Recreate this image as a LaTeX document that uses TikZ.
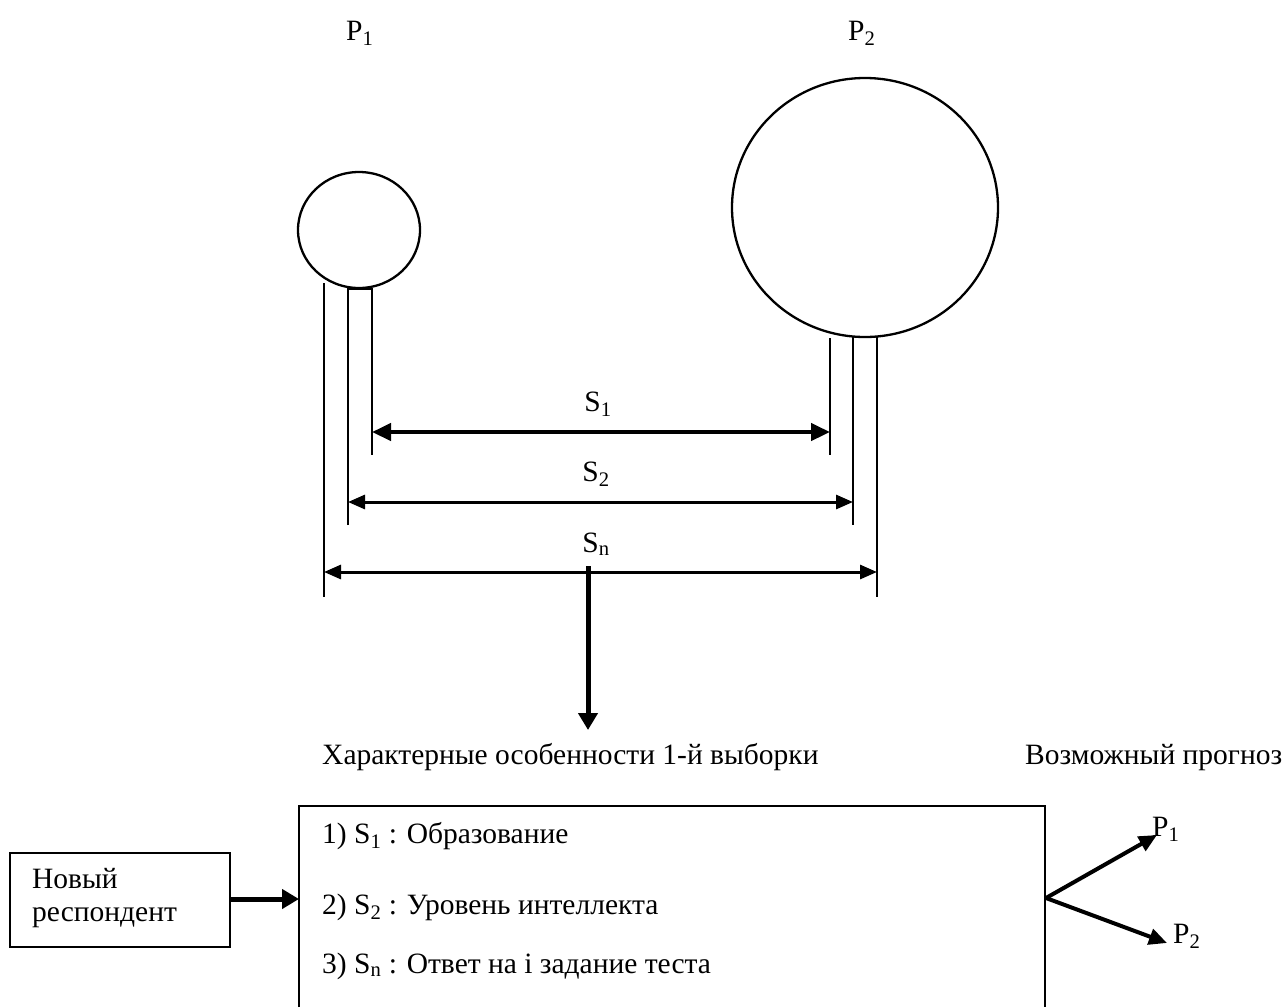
\documentclass[tikz,border=0pt]{standalone}
\usepackage{fontspec}
\setmainfont{Liberation Serif}
\usetikzlibrary{arrows.meta,shapes.geometric}
\begin{document}
\begin{tikzpicture}[x=1pt,y=-1pt,
  txt/.style={inner sep=0pt, anchor=base west, font=\fontsize{29.5}{34}\selectfont},
  ctxt/.style={inner sep=0pt, anchor=base, font=\fontsize{29.5}{34}\selectfont},
  guide/.style={line width=1.5pt},
  bubble/.style={draw, ellipse, line width=2.3pt, inner sep=0pt},
  dimthick/.style={line width=4.5pt, {Triangle[length=19pt,width=17pt]}-{Triangle[length=19pt,width=17pt]}},
  dimthin/.style={line width=3pt, {Triangle[length=17pt,width=14pt]}-{Triangle[length=17pt,width=14pt]}},
  flow/.style={line width=5pt, -{Triangle[length=17pt,width=19pt]}},
  fork/.style={line width=4pt, -{Triangle[length=18pt,width=16pt]}},
  frame/.style={line width=2pt}]
\useasboundingbox (0,0) rectangle (1285,1007);

% top labels
\node[txt] (p1top) at (346,40) {P\textsubscript{1}};
\node[txt] (p2top) at (848,40) {P\textsubscript{2}};

% bubbles
\node[bubble, minimum width=122pt, minimum height=116pt] (c1) at (359,230) {};
\node[bubble, minimum width=266pt, minimum height=259pt] (c2) at (865,207.5) {};

% extension lines left
\coordinate (l1t) at (324,283); \coordinate (l1b) at (324,597);
\coordinate (l2t) at (348,289); \coordinate (l2b) at (348,525);
\coordinate (l3t) at (372,289); \coordinate (l3b) at (372,455);
\draw[guide] (l1t) -- (l1b);
\draw[guide] (l2b) -- (l2t) -- (l3t) -- (l3b);
% extension lines right
\coordinate (r1t) at (830,338); \coordinate (r1b) at (830,455);
\coordinate (r2t) at (853,337); \coordinate (r2b) at (853,525);
\coordinate (r3t) at (877,337); \coordinate (r3b) at (877,597);
\draw[guide] (r1t) -- (r1b);
\draw[guide] (r2t) -- (r2b);
\draw[guide] (r3t) -- (r3b);

% dimension arrows
\coordinate (s1a) at (372,432); \coordinate (s1b) at (830,432);
\coordinate (s2a) at (348,502); \coordinate (s2b) at (853,502);
\coordinate (sna) at (324,572); \coordinate (snb) at (877,572);
\draw[dimthick] (s1a) -- (s1b);
\draw[dimthin] (s2a) -- (s2b);
\draw[dimthin] (sna) -- (snb);
\node[ctxt] (s1lab) at (598,411) {S\textsubscript{1}};
\node[ctxt] (s2lab) at (596,481) {S\textsubscript{2}};
\node[ctxt] (snlab) at (596,552) {S\textsubscript{n}};

% down arrow
\coordinate (dtop) at (588,566);
\coordinate (dbot) at (588,730);
\draw[flow] (dtop) -- (dbot);

% headings
\node[txt] (head1) at (322,764) {Характерные особенности 1-й выборки};
\node[txt] (head2) at (1025,764) {Возможный прогноз};

% main box (bottom beyond the picture)
\coordinate (bl) at (299,1007);
\coordinate (tl) at (299,806);
\coordinate (tr) at (1045,806);
\coordinate (br) at (1045,1007);
\draw[frame] (bl) -- (tl) -- (tr) -- (br);
\node[txt] (row1) at (322,843) {1) S\textsubscript{1} : Образование};
\node[txt] (row2) at (322,914) {2) S\textsubscript{2} : Уровень интеллекта};
\node[txt] (row3) at (322,973) {3) S\textsubscript{n} : Ответ на i задание теста};

% new respondent
\node[draw, frame, minimum width=220pt, minimum height=94pt, anchor=north west, inner sep=0pt] (nr) at (9,852) {};
\node[txt] (nr1) at (32,888) {Новый};
\node[txt] (nr2) at (32,921) {респондент};
\coordinate (boxL) at (299,899);
\draw[flow] (nr.east |- boxL) -- (boxL);

% forecast fork
\coordinate (boxR) at (1046,898);
\coordinate (t1) at (1157,835);
\coordinate (t2) at (1167,943);
\draw[fork] (boxR) -- (t1);
\draw[fork] (boxR) -- (t2);
\node[txt] (fp1) at (1152,836) {P\textsubscript{1}};
\node[txt] (fp2) at (1173,943) {P\textsubscript{2}};
\end{tikzpicture}
\end{document}
